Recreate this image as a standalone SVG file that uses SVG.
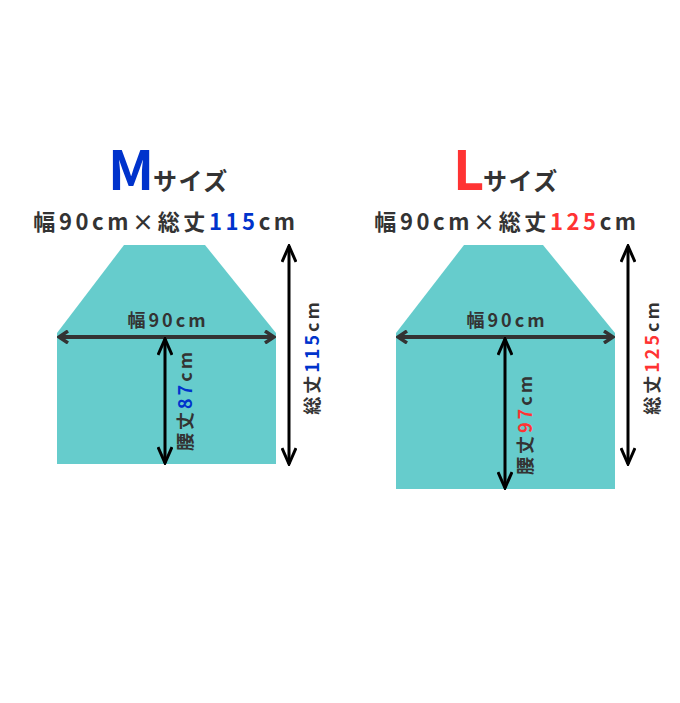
<svg xmlns="http://www.w3.org/2000/svg" width="680" height="703" viewBox="0 0 680 703">
<defs>
<style>
text{font-family:"Noto Sans CJK JP","Noto Sans",sans-serif;font-weight:bold;fill:#333}
.body{fill:#66cccc}
.blue{fill:#0033cc}
.red{fill:#ff3333}
.h{stroke:#333;stroke-width:4;fill:none}
.v{stroke:#000;stroke-width:3;fill:none}
.t1{font-size:22px;letter-spacing:3.6px}
.lab{font-size:18px;letter-spacing:3px}
.sz{font-size:24px;letter-spacing:1.5px}
</style>
<marker id="ah" viewBox="0 0 12 14" refX="10" refY="7" markerWidth="12" markerHeight="14" markerUnits="userSpaceOnUse" orient="auto-start-reverse">
<path d="M1,1 L10,7 L1,13" stroke="#333" stroke-width="3.5" fill="none" stroke-linejoin="miter"/>
</marker>
<marker id="av" viewBox="0 0 20 16" refX="18" refY="8" markerWidth="20" markerHeight="16" markerUnits="userSpaceOnUse" orient="auto-start-reverse">
<path d="M2,1 L18,8 L2,15" stroke="#000" stroke-width="3" fill="none"/>
</marker>
</defs>

<g id="m-size">
<g id="m-title">
<text x="108" y="190" class="blue" style="font-size:54px">M</text>
<text x="153" y="190" class="sz">サイズ</text>
<text x="166" y="230" class="t1" text-anchor="middle">幅90cm×総丈<tspan class="blue">115</tspan>cm</text>
</g>
<g id="m-body">
<polygon class="body" points="124,245 205,245 276,333 276,464 57,464 57,333"/>
</g>
<g id="m-labels">
<text x="168" y="327" class="lab" text-anchor="middle">幅90cm</text>
<text transform="translate(192,400) rotate(-90)" class="lab" text-anchor="middle">腰丈<tspan class="blue">87</tspan>cm</text>
<text transform="translate(319,357) rotate(-90)" class="lab" text-anchor="middle">総丈<tspan class="blue">115</tspan>cm</text>
</g>
</g>

<g id="l-size">
<g id="l-title">
<text x="453" y="190" class="red" style="font-size:54px">L</text>
<text x="483" y="190" class="sz">サイズ</text>
<text x="507" y="230" class="t1" text-anchor="middle">幅90cm×総丈<tspan class="red">125</tspan>cm</text>
</g>
<g id="l-body">
<polygon class="body" points="464,245 543,245 615,333 615,489 396,489 396,333"/>
</g>
<g id="l-labels">
<text x="507" y="327" class="lab" text-anchor="middle">幅90cm</text>
<text transform="translate(532,424) rotate(-90)" class="lab" text-anchor="middle">腰丈<tspan class="red">97</tspan>cm</text>
<text transform="translate(659,357) rotate(-90)" class="lab" text-anchor="middle">総丈<tspan class="red">125</tspan>cm</text>
</g>
</g>

<g id="connectors">
<line class="h" x1="59" y1="337" x2="274" y2="337" marker-start="url(#ah)" marker-end="url(#ah)"/>
<line class="v" x1="165" y1="339" x2="165" y2="463" marker-start="url(#av)" marker-end="url(#av)"/>
<line class="v" x1="289" y1="246" x2="289" y2="464" marker-start="url(#av)" marker-end="url(#av)"/>
<line class="h" x1="398" y1="337" x2="613" y2="337" marker-start="url(#ah)" marker-end="url(#ah)"/>
<line class="v" x1="505" y1="339" x2="505" y2="488" marker-start="url(#av)" marker-end="url(#av)"/>
<line class="v" x1="628" y1="246" x2="628" y2="464" marker-start="url(#av)" marker-end="url(#av)"/>
</g>
</svg>
